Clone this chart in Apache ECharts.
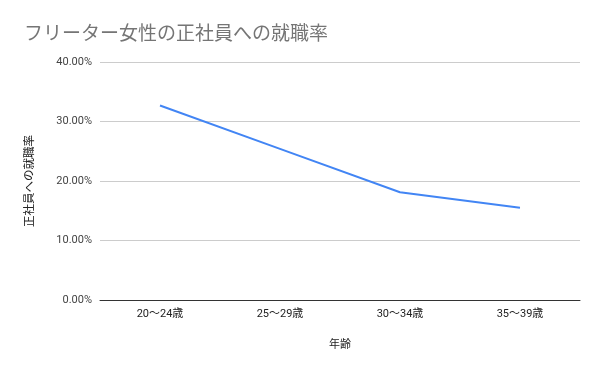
<!DOCTYPE html>
<html>
<head>
<meta charset="utf-8">
<script src="https://cdn.jsdelivr.net/npm/echarts@6/dist/echarts.min.js"></script>
<style>html,body{margin:0;padding:0;background:#fff}#c{width:600px;height:371px}</style>
</head>
<body>
<div id="c"></div>
<script>
const categories = ["20〜24歳", "25〜29歳", "30〜34歳", "35〜39歳"];
const rates = [32.7, 25.4, 18.1, 15.5];
const yTicks = [0, 10, 20, 30, 40];

const font = "Roboto, 'Noto Sans CJK JP', sans-serif";
const chart = echarts.init(document.getElementById('c'), null, {renderer: 'canvas'});
chart.setOption({
  animation: false,
  backgroundColor: '#fff',
  title: {
    text: 'フリーター女性の正社員への就職率',
    left: 19, top: 21,
    textStyle: {fontFamily: font, fontSize: 19, fontWeight: 'normal', color: '#757575'}
  },
  grid: {left: 100, right: 20, top: 62, bottom: 71},
  xAxis: {
    type: 'category',
    data: categories,
    boundaryGap: true,
    name: '年齢',
    nameLocation: 'middle',
    nameGap: 40,
    nameTextStyle: {fontFamily: font, fontSize: 11, color: '#222'},
    axisLine: {lineStyle: {color: '#333', width: 1}},
    axisTick: {show: false},
    axisLabel: {fontFamily: font, fontSize: 11, color: '#222', margin: 9}
  },
  yAxis: {
    type: 'value',
    min: yTicks[0], max: yTicks[yTicks.length - 1], interval: 10,
    name: '正社員への就職率',
    nameLocation: 'middle',
    nameGap: 64,
    nameTextStyle: {fontFamily: font, fontSize: 11.5, color: '#222'},
    axisLine: {show: false},
    axisTick: {show: false},
    splitLine: {lineStyle: {color: '#cccccc', width: 1}},
    axisLabel: {fontFamily: font, fontSize: 11, color: '#444', margin: 8,
      formatter: v => v.toFixed(2) + '%'}
  },
  series: [{
    type: 'line',
    data: rates,
    showSymbol: false,
    symbol: 'none',
    lineStyle: {color: '#4285F4', width: 2},
    itemStyle: {color: '#4285F4'}
  }]
});
</script>
</body>
</html>
